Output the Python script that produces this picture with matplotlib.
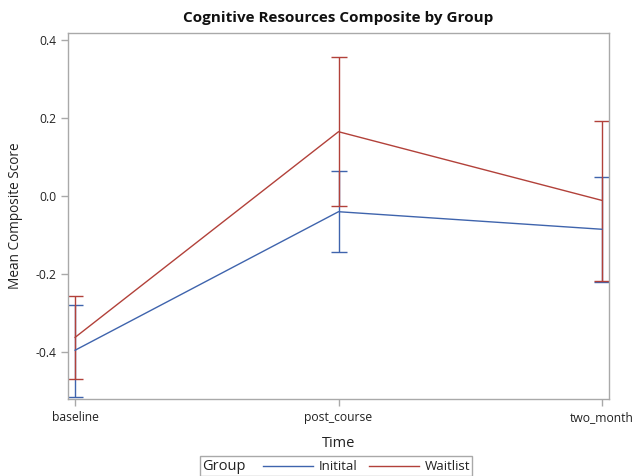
import matplotlib
matplotlib.use("Agg")
import matplotlib.pyplot as plt
from matplotlib.lines import Line2D
from matplotlib.offsetbox import HPacker, TextArea, DrawingArea, AnchoredOffsetbox

times = ["baseline", "post_course", "two_month"]
groups = ["Initital", "Waitlist"]
means = {
    "Initital": [-0.395, -0.040, -0.085],
    "Waitlist": [-0.362, 0.165, -0.011],
}
lower = {
    "Initital": [-0.515, -0.144, -0.221],
    "Waitlist": [-0.469, -0.026, -0.217],
}
upper = {
    "Initital": [-0.278, 0.065, 0.049],
    "Waitlist": [-0.256, 0.357, 0.193],
}
yticks = [-0.4, -0.2, 0.0, 0.2, 0.4]
colors = {"Initital": "#3f64ad", "Waitlist": "#b2413a"}

plt.rcParams["font.family"] = ["Open Sans", "DejaVu Sans"]
txtc = "#222222"

fig = plt.figure(figsize=(6.33, 4.76), dpi=100)
ax = fig.add_axes([68 / 633, 1 - 399 / 476, (609 - 68) / 633, (399 - 33) / 476])

x = list(range(len(times)))
for g in groups:
    m = means[g]
    yerr = [[m[i] - lower[g][i] for i in x], [upper[g][i] - m[i] for i in x]]
    ax.errorbar(x, m, yerr=yerr, color=colors[g], lw=1.0, elinewidth=1.0,
                capsize=6, capthick=1.0)

ax.set_xlim(-0.027, 2.027)
ax.set_ylim(-0.52, 0.418)
ax.set_xticks(x)
ax.set_xticklabels(times)
ax.set_yticks(yticks)
ax.set_yticklabels([f"{v:.1f}" for v in yticks])
for s in ax.spines.values():
    s.set_color("#a9a9a9")
    s.set_linewidth(1.0)
ax.tick_params(colors="#a9a9a9", labelcolor=txtc, labelsize=8.7, length=5, width=1)
ax.set_xlabel("Time", fontsize=10.5, color=txtc, labelpad=9)
ax.set_ylabel("Mean Composite Score", fontsize=9.8, color=txtc, labelpad=9)
fig.text(338 / 633, 1 - 18 / 476, "Cognitive Resources Composite by Group",
         ha="center", va="center", fontsize=11, fontweight="bold", color="#111111")

# legend built from offset boxes: "Group" then line + label per group
px = 0.72  # pixels -> points at 100 dpi


def spacer(w):
    return DrawingArea(w * px, 1, 0, 0)


items = [TextArea("Group", textprops=dict(fontsize=10.5, color=txtc)), spacer(18)]
for k, g in enumerate(groups):
    da = DrawingArea(50 * px, 8, 0, 0)
    da.add_artist(Line2D([0, 50 * px], [4, 4], color=colors[g], lw=1.0))
    items.append(da)
    items.append(spacer(6))
    items.append(TextArea(g, textprops=dict(fontsize=9.5, color=txtc)))
    if k < len(groups) - 1:
        items.append(spacer(11))
pack = HPacker(children=items, align="center", pad=0, sep=0)
anch = AnchoredOffsetbox(loc="center", child=pack, pad=0.15, borderpad=0,
                         frameon=True, bbox_to_anchor=(336 / 633, 1 - 466 / 476),
                         bbox_transform=fig.transFigure)
anch.patch.set_edgecolor("#a9a9a9")
anch.patch.set_linewidth(1.0)
anch.patch.set_boxstyle("square", pad=0)
fig.add_artist(anch)

fig.savefig("out.png", dpi=100)
